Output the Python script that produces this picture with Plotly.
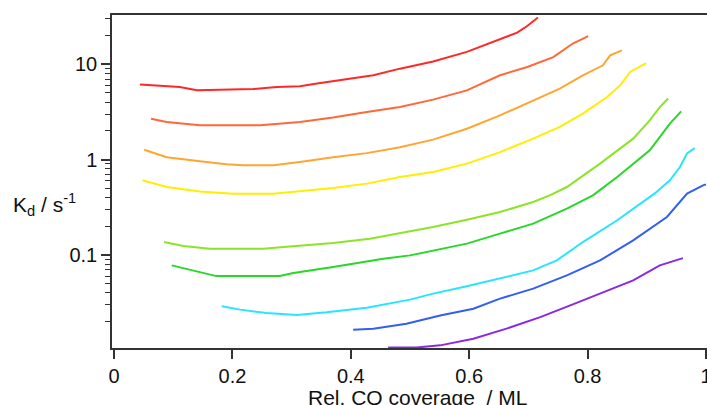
import plotly.graph_objects as go

# Rel. CO coverage (ML) and K_d (s^-1) for each curve
x_red = [0.044, 0.078, 0.111, 0.140, 0.190, 0.235, 0.275, 0.314, 0.343, 0.370, 0.404, 0.438, 0.483, 0.539, 0.596, 0.652, 0.681, 0.698, 0.716]
y_red = [6.12, 5.97, 5.78, 5.33, 5.42, 5.50, 5.78, 5.88, 6.27, 6.62, 7.08, 7.67, 9.0, 10.7, 13.5, 18.2, 21.5, 25.2, 30.9]

x_orangered = [0.0625, 0.089, 0.145, 0.247, 0.314, 0.370, 0.427, 0.483, 0.539, 0.596, 0.652, 0.698, 0.742, 0.775, 0.801]
y_orangered = [2.69, 2.48, 2.29, 2.29, 2.48, 2.76, 3.16, 3.56, 4.26, 5.33, 7.67, 9.37, 11.9, 16.5, 19.7]

x_orange = [0.051, 0.089, 0.145, 0.190, 0.218, 0.269, 0.314, 0.370, 0.427, 0.483, 0.539, 0.596, 0.652, 0.708, 0.753, 0.792, 0.826, 0.838, 0.858]
y_orange = [1.27, 1.06, 0.96, 0.893, 0.871, 0.871, 0.944, 1.06, 1.17, 1.35, 1.62, 2.11, 2.91, 4.19, 5.56, 7.67, 9.76, 12.4, 14.0]

x_yellow = [0.048, 0.089, 0.145, 0.201, 0.269, 0.314, 0.370, 0.427, 0.483, 0.539, 0.596, 0.652, 0.708, 0.753, 0.792, 0.833, 0.855, 0.872, 0.899]
y_yellow = [0.607, 0.516, 0.464, 0.439, 0.439, 0.469, 0.504, 0.560, 0.656, 0.741, 0.908, 1.20, 1.66, 2.20, 3.04, 4.54, 6.02, 8.30, 10.3]

x_lime = [0.0845, 0.117, 0.162, 0.252, 0.297, 0.370, 0.432, 0.483, 0.539, 0.596, 0.652, 0.708, 0.736, 0.765, 0.821, 0.877, 0.905, 0.922, 0.936]
y_lime = [0.1366, 0.124, 0.1164, 0.1164, 0.123, 0.1333, 0.148, 0.170, 0.196, 0.234, 0.282, 0.359, 0.421, 0.516, 0.908, 1.66, 2.58, 3.56, 4.37]

x_green = [0.0975, 0.134, 0.173, 0.280, 0.303, 0.370, 0.455, 0.500, 0.539, 0.596, 0.652, 0.708, 0.765, 0.809, 0.850, 0.905, 0.939, 0.958]
y_green = [0.0778, 0.0689, 0.060, 0.060, 0.0646, 0.0746, 0.0914, 0.099, 0.1117, 0.1315, 0.1675, 0.213, 0.306, 0.422, 0.656, 1.25, 2.39, 3.21]

x_cyan = [0.182, 0.213, 0.258, 0.309, 0.359, 0.427, 0.500, 0.539, 0.596, 0.652, 0.708, 0.748, 0.792, 0.850, 0.889, 0.914, 0.939, 0.956, 0.968, 0.981]
y_cyan = [0.0289, 0.0267, 0.0246, 0.0234, 0.0250, 0.028, 0.034, 0.0393, 0.0469, 0.0564, 0.0689, 0.0877, 0.1366, 0.231, 0.345, 0.445, 0.607, 0.836, 1.16, 1.32]

x_blue = [0.404, 0.438, 0.494, 0.551, 0.607, 0.652, 0.708, 0.765, 0.821, 0.877, 0.934, 0.968, 0.995, 1.0]
y_blue = [0.01644, 0.01686, 0.019, 0.0232, 0.0273, 0.0348, 0.0443, 0.0611, 0.0877, 0.142, 0.250, 0.440, 0.537, 0.55]

x_purple = [0.463, 0.511, 0.551, 0.607, 0.663, 0.720, 0.775, 0.821, 0.877, 0.922, 0.961]
y_purple = [0.0107, 0.0107, 0.01126, 0.01324, 0.01686, 0.0223, 0.0303, 0.0393, 0.0541, 0.0778, 0.0927]

series = [
    (x_red, y_red, "rgb(255,40,40)"),
    (x_orangered, y_orangered, "rgb(255,105,55)"),
    (x_orange, y_orange, "rgb(255,165,50)"),
    (x_yellow, y_yellow, "rgb(255,238,0)"),
    (x_lime, y_lime, "rgb(140,228,40)"),
    (x_green, y_green, "rgb(40,215,40)"),
    (x_cyan, y_cyan, "rgb(40,228,255)"),
    (x_blue, y_blue, "rgb(50,95,240)"),
    (x_purple, y_purple, "rgb(140,40,225)"),
]

x_ticks = [0, 0.2, 0.4, 0.6, 0.8, 1.0]
x_ticklabels = ["0", "0.2", "0.4", "0.6", "0.8", "1"]
y_ticks = [0.1, 1, 10]
y_ticklabels = ["0.1", "1", "10"]
y_minor = [0.02, 0.03, 0.04, 0.05, 0.06, 0.07, 0.08, 0.09,
           0.2, 0.3, 0.4, 0.5, 0.6, 0.7, 0.8, 0.9,
           2, 3, 4, 5, 6, 7, 8, 9, 20, 30]

fig = go.Figure()
for xs, ys, col in series:
    fig.add_trace(go.Scatter(x=xs, y=ys, mode="lines",
                             line=dict(color=col, width=2), showlegend=False,
                             hoverinfo="skip"))

font_family = "Liberation Sans, Arial, Helvetica, sans-serif"
axcol = "#333333"

fig.update_layout(
    width=707, height=405,
    margin=dict(l=112, r=0, t=15, b=57, pad=0),
    paper_bgcolor="white", plot_bgcolor="white",
    font=dict(family=font_family, size=20, color="#111111"),
    xaxis=dict(
        range=[-0.0034, 1.0017], showgrid=False, zeroline=False,
        showline=True, linecolor=axcol, linewidth=1.5, mirror=True,
        ticks="outside", ticklen=9, tickwidth=1.5, tickcolor=axcol,
        tickmode="array", tickvals=x_ticks, ticktext=x_ticklabels,
        tickfont=dict(size=20), automargin=False, ticklabeloverflow="allow",
    ),
    yaxis=dict(
        type="log", range=[-1.976, 1.517], showgrid=False, zeroline=False,
        showline=True, linecolor=axcol, linewidth=1.5,
        ticks="outside", ticklen=9, tickwidth=1.5, tickcolor=axcol,
        tickmode="array", tickvals=y_ticks, ticktext=y_ticklabels,
        tickfont=dict(size=20), automargin=False,
        minor=dict(ticks="outside", ticklen=5, tickwidth=1.2, tickcolor=axcol,
                   tickmode="array", tickvals=y_minor, showgrid=False),
    ),
    annotations=[
        dict(text="K<sub>d</sub> / s<sup>-1</sup>", xref="paper", yref="paper",
             x=-0.169, y=0.432, xanchor="left", yanchor="middle",
             showarrow=False, font=dict(size=21, family=font_family, color="#111111")),
        dict(text="Rel. CO coverage  / ML", xref="paper", yref="paper",
             x=0.513, y=-0.148, xanchor="center", yanchor="middle",
             showarrow=False, font=dict(size=21, family=font_family, color="#111111")),
    ],
)

fig.write_html("out.html")
